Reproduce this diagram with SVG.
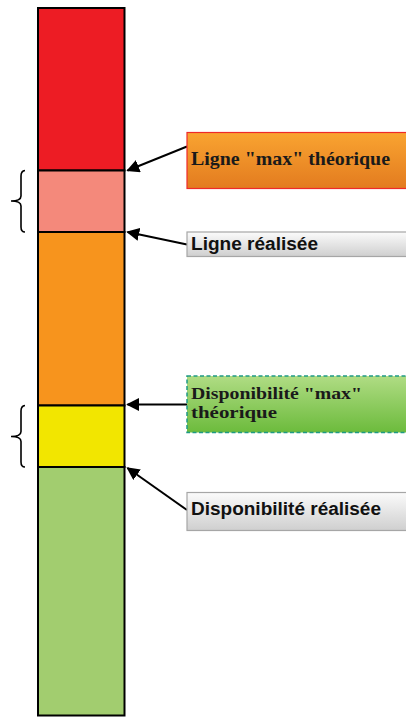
<svg xmlns="http://www.w3.org/2000/svg" width="406" height="717" viewBox="0 0 406 717">
<style>
.seg{stroke:#000;stroke-width:2}
.brace{fill:none;stroke:#000;stroke-width:1.6}
.conn{stroke:#000;stroke-width:2;fill:none;marker-end:url(#ah)}
.serif{font-family:"Liberation Serif","Times New Roman",serif;font-weight:bold;font-size:19px;fill:#1a1a1a}
.serif2{font-family:"Liberation Serif","Times New Roman",serif;font-weight:bold;font-size:17px;fill:#1a1a1a}
.sans{font-family:"Liberation Sans",Arial,sans-serif;font-weight:bold;font-size:18px;fill:#111}
.gray{fill:url(#gGray);stroke:#a6a6a6;stroke-width:1.2}
</style>
<defs>
<marker id="ah" viewBox="0 0 10 10" refX="9" refY="5" markerWidth="6.5" markerHeight="6.5" orient="auto" markerUnits="strokeWidth">
<path d="M0,0 L10,5 L0,10 Z" fill="#000"/>
</marker>
<linearGradient id="gOrange" x1="0" y1="0" x2="0" y2="1">
<stop offset="0" stop-color="#f9a431"/><stop offset="1" stop-color="#e37b1f"/>
</linearGradient>
<linearGradient id="gGreen" x1="0" y1="0" x2="0" y2="1">
<stop offset="0" stop-color="#b0dc84"/><stop offset="1" stop-color="#6cbb3c"/>
</linearGradient>
<linearGradient id="gGray" x1="0" y1="0" x2="0" y2="1">
<stop offset="0" stop-color="#fbfbfb"/><stop offset="1" stop-color="#cfcfcf"/>
</linearGradient>
</defs>
<g id="bar">
<rect x="38" y="8" width="86.5" height="162.5" fill="#ed1c24" class="seg"/>
<rect x="38" y="170.5" width="86.5" height="61.5" fill="#f4897b" class="seg"/>
<rect x="38" y="232" width="86.5" height="173.5" fill="#f7941d" class="seg"/>
<rect x="38" y="405.5" width="86.5" height="61.5" fill="#f2e600" class="seg"/>
<rect x="38" y="467" width="86.5" height="248.5" fill="#a2cd6f" class="seg"/>
</g>
<g id="braces">
<path class="brace" d="M25,170.5 Q21,171 21,176 L21,196 Q21,201 11,201 Q21,201 21,206 L21,227 Q21,232 25,232"/>
<path class="brace" d="M25,405.5 Q21,406 21,411 L21,431.5 Q21,436.5 11,436.5 Q21,436.5 21,441.5 L21,462 Q21,467 25,467"/>
</g>
<g id="connectors">
<line class="conn" x1="187" y1="146.5" x2="127.5" y2="170.5"/>
<line class="conn" x1="187" y1="244.5" x2="127.5" y2="232"/>
<line class="conn" x1="187" y1="404.5" x2="127.5" y2="404.5"/>
<line class="conn" x1="187" y1="510" x2="127.5" y2="468"/>
</g>
<g id="n1">
<rect x="187" y="132.5" width="230" height="56" fill="url(#gOrange)" stroke="#ee2a2a" stroke-width="1.2"/>
<text class="serif" x="191" y="165" textLength="199" lengthAdjust="spacingAndGlyphs">Ligne "max" théorique</text>
</g>
<g id="n2">
<rect x="187" y="232" width="230" height="24.5" class="gray"/>
<text class="sans" x="191" y="250" textLength="127" lengthAdjust="spacingAndGlyphs">Ligne réalisée</text>
</g>
<g id="n3">
<rect x="187" y="376" width="230" height="56.5" fill="url(#gGreen)" stroke="#1f9a85" stroke-width="1.5" stroke-dasharray="4,2.5"/>
<text class="serif2" x="191" y="399" textLength="171" lengthAdjust="spacingAndGlyphs">Disponibilité "max"</text>
<text class="serif2" x="191" y="418" textLength="86" lengthAdjust="spacingAndGlyphs">théorique</text>
</g>
<g id="n4">
<rect x="187" y="492.5" width="230" height="38" class="gray"/>
<text class="sans" x="191" y="515" textLength="190" lengthAdjust="spacingAndGlyphs">Disponibilité réalisée</text>
</g>
</svg>
